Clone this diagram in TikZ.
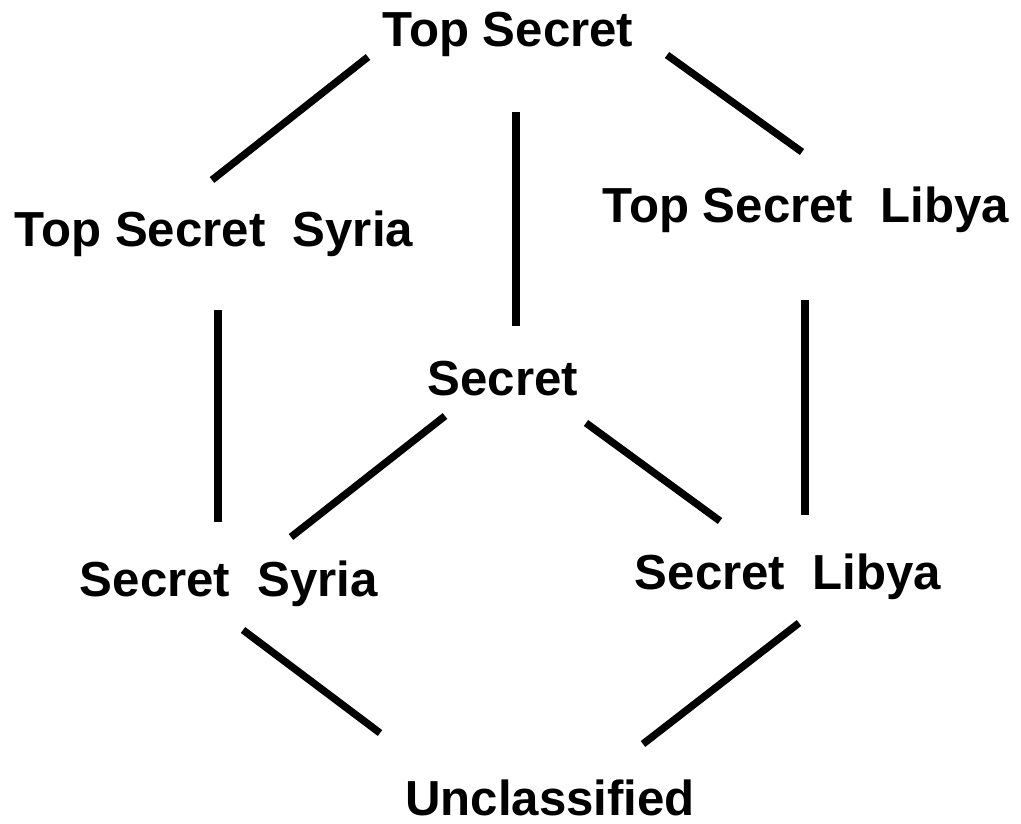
\documentclass[tikz,border=0pt]{standalone}
\usepackage{fontspec}
\setmainfont{Liberation Sans}
\usepackage{tikz}
\usetikzlibrary{positioning}

\begin{document}
\begin{tikzpicture}[x=0.02cm, y=-0.02cm]
	% Define styles
	\tikzset{
		level/.style={inner sep=0pt, anchor=base, font=\fontsize{28}{33}\selectfont\bfseries},
		line/.style={draw, line width=4.2pt, line cap=butt}
	}
	\useasboundingbox (0,0) rectangle (1021,824);
	
	% Nodes
	\node[level] (top) at (508,47) {Top Secret};
	\node[level] (tss) at (214,247) {Top Secret\ \ Syria};
	\node[level] (tsl) at (806,223) {Top Secret\ \ Libya};
	\node[level] (sec) at (503,395) {Secret};
	\node[level] (ss) at (229,596) {Secret\ \ Syria};
	\node[level] (sl) at (788,589) {Secret\ \ Libya};
	\node[level] (unc) at (550,815) {Unclassified};
	
	% Lines
	\draw[line] ([shift={(-140,10)}]top.base) -- ([shift={(-2,-67)}]tss.base);
	\draw[line] ([shift={(159,8)}]top.base) -- ([shift={(-4,-71)}]tsl.base);
	\draw[line] ([shift={(8,65)}]top.base) -- ([shift={(13,-69)}]sec.base);
	\draw[line] ([shift={(4,63)}]tss.base) -- ([shift={(-11,-74)}]ss.base);
	\draw[line] ([shift={(-1,77)}]tsl.base) -- ([shift={(17,-74)}]sl.base);
	\draw[line] ([shift={(-58,21)}]sec.base) -- ([shift={(62,-59)}]ss.base);
	\draw[line] ([shift={(83,28)}]sec.base) -- ([shift={(-68,-68)}]sl.base);
	\draw[line] ([shift={(14,34)}]ss.base) -- ([shift={(-170,-82)}]unc.base);
	\draw[line] ([shift={(11,34)}]sl.base) -- ([shift={(93,-71)}]unc.base);
	
\end{tikzpicture}
\end{document}
